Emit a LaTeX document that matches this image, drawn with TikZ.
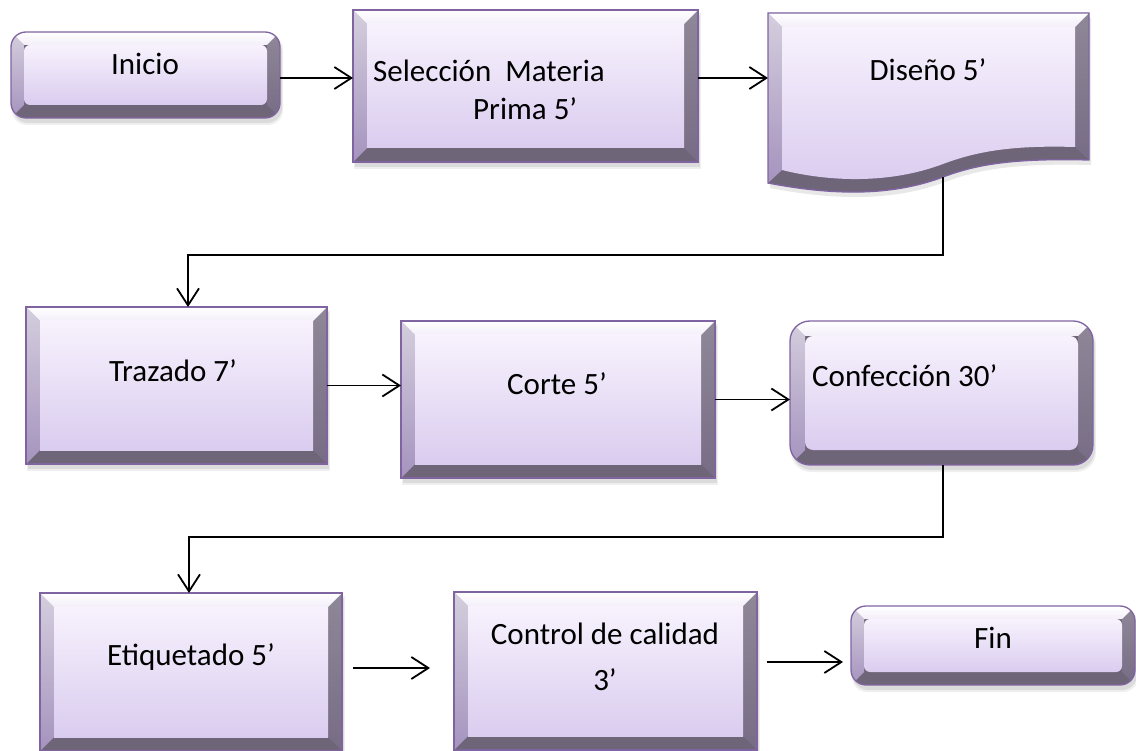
\documentclass[tikz,border=0pt]{standalone}
\usepackage{fontspec}
\setmainfont{Carlito}
\usetikzlibrary{calc,arrows.meta}

\definecolor{edgecol}{HTML}{8064A2}
\definecolor{faceTop}{HTML}{F7F2FD}
\definecolor{faceBot}{HTML}{DACCEF}
\definecolor{bevTopA}{HTML}{FFFFFF}
\definecolor{bevTopB}{HTML}{F3EEF9}
\definecolor{bevLeftA}{HTML}{D4CEDD}
\definecolor{bevLeftB}{HTML}{A593BE}
\definecolor{bevRightA}{HTML}{8F8898}
\definecolor{bevRightB}{HTML}{776C85}
\definecolor{bevBottom}{HTML}{6F6579}
\definecolor{shadowcol}{HTML}{808080}

\tikzset{
  boxgeom/.style={rectangle, inner sep=0pt, outer sep=0pt, draw=none},
  txt/.style={font=\fontsize{31}{38}\selectfont, inner sep=0pt, text=black},
  flow/.style={line width=1.8pt, -{Straight Barb[length=17pt,width=22pt,line width=1.8pt]}},
}

% bevelled box drawn behind a named geometry node
% #1 node, #2 bevel width, #3 outer corner option, #4 face corner option
\newcommand\bevelbox[4]{%
  \fill[shadowcol, opacity=.18, #3] ($(#1.north west)+(2,5)$) rectangle ($(#1.south east)+(2,5)$);
  \fill[shadowcol, opacity=.12, #3] ($(#1.north west)+(1,3)$) rectangle ($(#1.south east)+(3,7)$);
  \begin{scope}
    \clip[#3] (#1.north west) rectangle (#1.south east);
    \fill[bevBottom] (#1.north west) rectangle (#1.south east);
    \shade[top color=bevLeftA, bottom color=bevLeftB]
      (#1.north west) -- ($(#1.north west)+(#2,#2)$) -- ($(#1.south west)+(#2,-#2)$) -- (#1.south west) -- cycle;
    \shade[top color=bevRightA, bottom color=bevRightB]
      (#1.north east) -- ($(#1.north east)+(-#2,#2)$) -- ($(#1.south east)+(-#2,-#2)$) -- (#1.south east) -- cycle;
    \shade[top color=bevTopA, bottom color=bevTopB]
      (#1.north west) -- (#1.north east) -- ($(#1.north east)+(-#2,#2)$) -- ($(#1.north west)+(#2,#2)$) -- cycle;
    \shade[top color=faceTop, bottom color=faceBot, #4]
      ($(#1.north west)+(#2,#2)$) rectangle ($(#1.south east)+(-#2,-#2)$);
  \end{scope}
  \draw[edgecol, line width=1.3pt, #3] (#1.north west) rectangle (#1.south east);
}

\begin{document}
\begin{tikzpicture}[x=1pt,y=-1pt]
  \useasboundingbox (0,0) rectangle (1136,751);
  \fill[white] (0,0) rectangle (1136,751);
  \clip (0,0) rectangle (1136,751);

  % geometry of the steps
  \node[boxgeom, minimum width=269pt, minimum height=86pt]  (inicio) at (145.5,75) {};
  \node[boxgeom, minimum width=345pt, minimum height=152pt] (sel)    at (525.5,86) {};
  \node[boxgeom, minimum width=321pt, minimum height=180pt] (diseno) at (928.5,103) {};
  \node[boxgeom, minimum width=301pt, minimum height=157pt] (traz)   at (176.5,385.5) {};
  \node[boxgeom, minimum width=314pt, minimum height=157pt] (corte)  at (558,399.5) {};
  \node[boxgeom, minimum width=303pt, minimum height=144pt] (conf)   at (941.5,393) {};
  \node[boxgeom, minimum width=302pt, minimum height=158pt] (etiq)   at (191,672) {};
  \node[boxgeom, minimum width=303pt, minimum height=158pt] (ctrl)   at (605.5,671) {};
  \node[boxgeom, minimum width=284pt, minimum height=79pt]  (fin)    at (993,645.5) {};

  % terminators and processes
  \bevelbox{inicio}{13}{rounded corners=15pt}{rounded corners=6pt}
  \bevelbox{sel}{14}{sharp corners}{sharp corners}
  \bevelbox{traz}{14}{sharp corners}{sharp corners}
  \bevelbox{corte}{14}{sharp corners}{sharp corners}
  \bevelbox{conf}{15}{rounded corners=20pt}{rounded corners=8pt}
  \bevelbox{etiq}{14}{sharp corners}{sharp corners}
  \bevelbox{ctrl}{14}{sharp corners}{sharp corners}
  \bevelbox{fin}{13}{rounded corners=15pt}{rounded corners=6pt}

  % document shape
  \fill[shadowcol, opacity=.18] (770,18) -- (1091,18) -- (1091,165)
    .. controls (1012,163) and (977,170) .. (945,182)
    .. controls (892,202) and (832,200) .. (770,188) -- cycle;
  \fill[bevBottom] (768,13) -- (1089,13) -- (1089,160)
    .. controls (1010,158) and (975,165) .. (943,177)
    .. controls (890,197) and (830,195) .. (768,183) -- cycle;
  \shade[top color=bevLeftA, bottom color=bevLeftB]
    (768,13) -- (782,27) -- (782,170) -- (768,183) -- cycle;
  \shade[top color=bevRightA, bottom color=bevRightB]
    (1089,13) -- (1075,27) -- (1075,147) -- (1089,160) -- cycle;
  \shade[top color=bevTopA, bottom color=bevTopB]
    (768,13) -- (1089,13) -- (1075,27) -- (782,27) -- cycle;
  \shade[top color=faceTop, bottom color=faceBot]
    (782,27) -- (1075,27) -- (1075,147)
    .. controls (1010,145) and (975,152) .. (943,164)
    .. controls (890,184) and (830,182) .. (782,170) -- cycle;
  \draw[edgecol, line width=1.3pt] (768,13) -- (1089,13) -- (1089,160)
    .. controls (1010,158) and (975,165) .. (943,177)
    .. controls (890,197) and (830,195) .. (768,183) -- cycle;
  \coordinate (dwave) at (943,177);

  % texts (for two-line texts the base anchor is the last line)
  \node[txt, anchor=base] (t-inicio) at (145,75) {Inicio};
  \node[txt, anchor=base west, align=left] (t-sel) at (373,120)
    {Selección\ \ Materia\\\hspace*{100pt}Prima 5’};
  \node[txt, anchor=base] (t-diseno) at (928,81) {Diseño 5’};
  \node[txt, anchor=base] (t-traz) at (173,382) {Trazado 7’};
  \node[txt, anchor=base] (t-corte) at (557,395) {Corte 5’};
  \node[txt, anchor=base west] (t-conf) at (812,387) {Confección 30’};
  \node[txt, anchor=base] (t-etiq) at (191,665) {Etiquetado 5’};
  \node[txt, anchor=base, align=center, font=\fontsize{31}{46}\selectfont] (t-ctrl) at (605,690)
    {Control de calidad\\3’};
  \node[txt, anchor=base] (t-fin) at (993,648) {Fin};

  % connectors
  \draw[flow] ([yshift=-3pt]inicio.east) -- ([yshift=-3pt]inicio.east -| sel.west);
  \draw[flow] ([yshift=8pt]sel.east) -- ([yshift=8pt]sel.east -| diseno.west);
  \draw[flow] (dwave) -- ++(0,78) -| ([xshift=11.5pt]traz.north);
  \draw[flow] (traz.east) -- (traz.east -| corte.west);
  \draw[flow] (corte.east) -- (corte.east -| conf.west);
  \draw[flow] ([xshift=1.5pt]conf.south) -- ++(0,72) -| ([xshift=-2pt]etiq.north);
  \draw[flow, shorten <=11pt, shorten >=24pt] ([yshift=4pt]etiq.east) -- ([yshift=4pt]etiq.east -| ctrl.west);
  \draw[flow, shorten <=10pt, shorten >=8pt] ([yshift=9pt]ctrl.east) -- ([yshift=9pt]ctrl.east -| fin.west);
\end{tikzpicture}
\end{document}
